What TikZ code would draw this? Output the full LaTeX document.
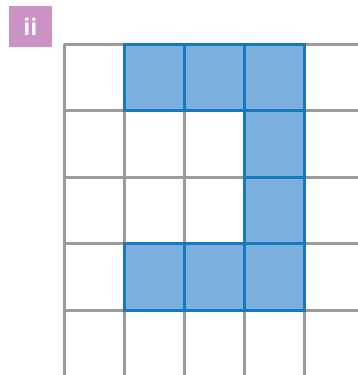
\documentclass[tikz,border=0pt]{standalone}
\usepackage{fontspec}
\setmainfont{Open Sans}
\definecolor{gridgrey}{HTML}{9B9B9B}
\definecolor{cellfill}{HTML}{7BAFDE}
\definecolor{celledge}{HTML}{1679BE}
\definecolor{labelbg}{HTML}{CC92C6}
\tikzset{
  gridline/.style={draw=gridgrey, line width=3pt},
  bluecell/.style={fill=cellfill, draw=celledge, line width=3pt},
  labelbox/.style={fill=labelbg, text=white, minimum width=43pt, minimum height=41pt, inner sep=0pt, font=\fontsize{23}{23}\selectfont\bfseries}
}
\begin{document}
\begin{tikzpicture}[x=1pt,y=-1pt]
\useasboundingbox (0,0) rectangle (358,375);
\clip (0,0) rectangle (358,375);
\fill[white] (0,0) rectangle (358,375);
% grid lines
\foreach \x in {64,124,184,244,304} \draw[gridline] (\x,44) -- (\x,380);
\foreach \y in {44,110.5,177,243.5,310} \draw[gridline] (64,\y) -- (362,\y);
% blue cells (column, row)
\foreach \c/\r in {1/0,2/0,3/0,3/1,3/2,1/3,2/3,3/3}
  \draw[bluecell] ({64+60*\c},{44+66.5*\r}) rectangle ({124+60*\c},{110.5+66.5*\r});
% label
\node[labelbox] (label) at (30.5,26.5) {ii};
\end{tikzpicture}
\end{document}
